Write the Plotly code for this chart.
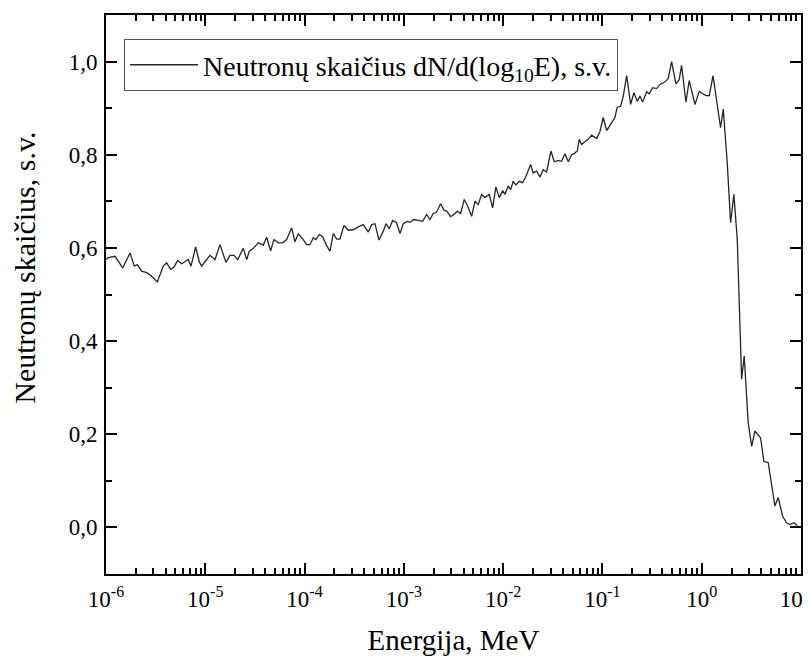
import plotly.graph_objects as go

log10_energy = [
    -6.000, -5.977, -5.909, -5.832, -5.758, -5.715, -5.685, -5.641, -5.590, -5.540,
    -5.483, -5.423, -5.389, -5.349, -5.315, -5.278, -5.238, -5.204, -5.171, -5.144,
    -5.097, -5.060, -5.037, -4.993, -4.953, -4.902, -4.852, -4.792, -4.751, -4.711,
    -4.674, -4.617, -4.583, -4.557, -4.516, -4.466, -4.416, -4.382, -4.342, -4.308,
    -4.265, -4.221, -4.181, -4.130, -4.097, -4.063, -4.013, -3.979, -3.946,
    -3.912, -3.885, -3.852, -3.818, -3.778, -3.744, -3.711, -3.677, -3.644, -3.603,
    -3.560, -3.510, -3.459, -3.409, -3.358, -3.324, -3.291, -3.251, -3.207, -3.180,
    -3.147, -3.113, -3.073, -3.039, -3.006, -2.966, -2.939, -2.898, -2.855, -2.811,
    -2.770, -2.737, -2.704, -2.670, -2.630, -2.596, -2.569, -2.529, -2.495, -2.462,
    -2.428, -2.392, -2.358, -2.317, -2.284, -2.251, -2.217, -2.183, -2.140, -2.106,
    -2.073, -2.039, -2.005, -1.982, -1.949, -1.925, -1.898, -1.871, -1.838, -1.804,
    -1.770, -1.723, -1.697, -1.663, -1.629, -1.596, -1.562, -1.519, -1.485, -1.445,
    -1.411, -1.378, -1.344, -1.310, -1.287, -1.254, -1.234, -1.210, -1.176, -1.143,
    -1.109, -1.058, -1.025, -0.992, -0.958, -0.907, -0.874, -0.851, -0.817, -0.790,
    -0.756, -0.716, -0.683, -0.649, -0.622, -0.595, -0.555, -0.529, -0.495, -0.454,
    -0.414, -0.371, -0.337, -0.303, -0.260, -0.227, -0.203, -0.159, -0.126, -0.068,
    -0.025, 0.042, 0.076, 0.114, 0.190, 0.217, 0.257, 0.291, 0.324, 0.358,
    0.402, 0.428, 0.468, 0.503, 0.536, 0.593, 0.626, 0.670, 0.737, 0.771,
    0.815, 0.855, 0.888, 0.929, 0.962,
]
neutron_counts = [
    0.575, 0.579, 0.582, 0.557, 0.589, 0.561, 0.564, 0.550, 0.547, 0.539,
    0.527, 0.561, 0.568, 0.554, 0.559, 0.573, 0.566, 0.571, 0.575, 0.561,
    0.602, 0.570, 0.561, 0.573, 0.584, 0.575, 0.607, 0.569, 0.584, 0.584,
    0.575, 0.599, 0.575, 0.593, 0.599, 0.611, 0.606, 0.623, 0.594, 0.618,
    0.611, 0.611, 0.618, 0.643, 0.613, 0.630, 0.618, 0.607, 0.607,
    0.622, 0.618, 0.629, 0.624, 0.605, 0.593, 0.631, 0.619, 0.619, 0.648,
    0.638, 0.639, 0.645, 0.650, 0.634, 0.650, 0.652, 0.617, 0.636, 0.652,
    0.641, 0.659, 0.654, 0.631, 0.652, 0.657, 0.655, 0.661, 0.659, 0.657,
    0.672, 0.661, 0.674, 0.677, 0.695, 0.681, 0.679, 0.667, 0.672, 0.679,
    0.674, 0.704, 0.690, 0.668, 0.700, 0.693, 0.715, 0.708, 0.715, 0.686,
    0.731, 0.708, 0.723, 0.715, 0.733, 0.725, 0.743, 0.735, 0.743, 0.740,
    0.754, 0.779, 0.761, 0.765, 0.752, 0.768, 0.763, 0.808, 0.785, 0.788,
    0.786, 0.802, 0.785, 0.800, 0.802, 0.808, 0.833, 0.822, 0.828, 0.833,
    0.842, 0.835, 0.850, 0.880, 0.852, 0.868, 0.880, 0.902, 0.904, 0.926,
    0.970, 0.908, 0.933, 0.915, 0.926, 0.913, 0.935, 0.931, 0.944, 0.942,
    0.952, 0.956, 0.964, 1.000, 0.952, 0.961, 0.992, 0.913, 0.959, 0.908,
    0.936, 0.927, 0.927, 0.970, 0.858, 0.898, 0.783, 0.654, 0.715, 0.618,
    0.318, 0.368, 0.225, 0.174, 0.207, 0.192, 0.142, 0.139, 0.046, 0.064,
    0.024, 0.010, 0.006, 0.010, 0.004,
]

x_tick_values = [1e-6, 1e-5, 1e-4, 1e-3, 1e-2, 1e-1, 1e0, 1e1]
x_tick_labels = ["10<sup>-6</sup>", "10<sup>-5</sup>", "10<sup>-4</sup>", "10<sup>-3</sup>",
                 "10<sup>-2</sup>", "10<sup>-1</sup>", "10<sup>0</sup>",
                 "10<sup>1</sup>\u00a0\u00a0"]
y_tick_values = [0.0, 0.2, 0.4, 0.6, 0.8, 1.0]
y_tick_labels = ["0,0", "0,2", "0,4", "0,6", "0,8", "1,0"]

series_name = "Neutronų skaičius dN/d(log<sub>10</sub>E), s.v."
x_title = "Energija, MeV"
y_title = "Neutronų skaičius, s.v."

energy = [10 ** v for v in log10_energy]

FONT = "Liberation Serif"

fig = go.Figure()
fig.add_trace(go.Scatter(
    x=energy, y=neutron_counts, mode="lines", name=series_name,
    line=dict(color="#262626", width=1.3),
))

axis_common = dict(
    showline=True, linecolor="black", linewidth=2, mirror="allticks",
    ticks="inside", tickcolor="black", showgrid=False, zeroline=False,
    tickfont=dict(family=FONT, size=23, color="black"),
    ticklabeloverflow="allow",
)

fig.update_xaxes(
    type="log", range=[-6, 1],
    tickvals=x_tick_values, ticktext=x_tick_labels,
    ticklen=11, tickwidth=2, ticklabelstandoff=3,
    minor=dict(ticks="inside", ticklen=6, tickwidth=1.5, tickcolor="black", dtick="D1", showgrid=False),
    title=dict(text=x_title, font=dict(family=FONT, size=29, color="black"), standoff=19),
    **axis_common,
)
fig.update_yaxes(
    range=[-0.1, 1.1],
    tickvals=y_tick_values, ticktext=y_tick_labels,
    ticklen=11, tickwidth=2, ticklabelstandoff=2,
    minor=dict(ticks="inside", ticklen=6, tickwidth=1.5, tickcolor="black", dtick=0.1, showgrid=False),
    **axis_common,
)

# y-axis title (placed as in the reference, slightly above the plot's centre)
fig.add_annotation(
    text=y_title, textangle=-90, showarrow=False,
    xref="paper", yref="paper", x=-0.1165, y=0.548,
    xanchor="center", yanchor="middle",
    font=dict(family=FONT, size=30, color="black"),
)

# The page body adds an 8px offset, so the margins are shifted to compensate.
fig.update_layout(
    width=811, height=660,
    margin=dict(l=98, r=18, t=7, b=94, autoexpand=False),
    paper_bgcolor="white", plot_bgcolor="white",
    showlegend=True,
    legend=dict(
        x=0.026, y=0.957, xanchor="left", yanchor="top",
        bgcolor="white", bordercolor="#555555", borderwidth=1,
        font=dict(family=FONT, size=28, color="black"),
        itemwidth=68,
    ),
    font=dict(family=FONT, color="black"),
)

fig.write_html("out.html")
